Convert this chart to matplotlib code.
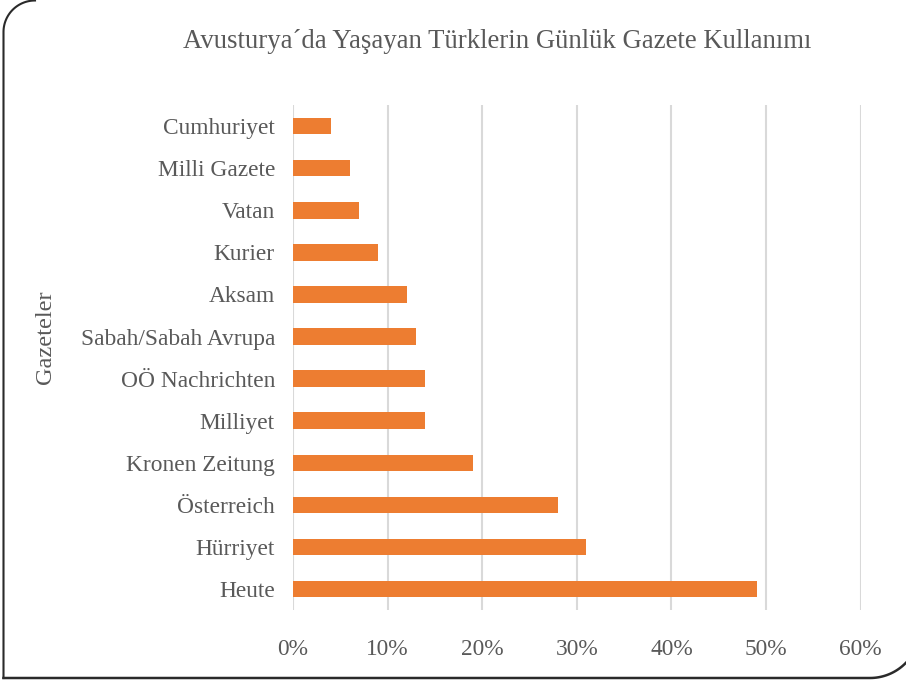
import matplotlib
matplotlib.use("Agg")
import numpy as np
import matplotlib.pyplot as plt
from matplotlib.lines import Line2D
from matplotlib.ticker import PercentFormatter

# Gazete adlari (yukaridan asagiya) ve gunluk kullanim oranlari (%)
gazeteler = ["Cumhuriyet", "Milli Gazete", "Vatan", "Kurier", "Aksam",
             "Sabah/Sabah Avrupa", "OÖ Nachrichten", "Milliyet",
             "Kronen Zeitung", "Österreich", "Hürriyet", "Heute"]
oranlar = [4, 6, 7, 9, 12, 13, 14, 14, 19, 28, 31, 49]
x_ticks = [0, 10, 20, 30, 40, 50, 60]

text_color = "#595959"
W, H = 906, 683
plt.rcParams["font.family"] = ["Liberation Serif", "DejaVu Serif"]

fig = plt.figure(figsize=(W / 100, H / 100), dpi=100)
ax = fig.add_axes([0.3234, 0.107, 0.6266, 0.739])

y_pos = list(range(len(gazeteler)))
ax.barh(y_pos, oranlar, height=0.39, color="#ED7D31")
ax.set_ylim(len(gazeteler) - 0.5, -0.5)
ax.set_xlim(0, 60)
ax.set_yticks(y_pos)
ax.set_yticklabels(gazeteler)
ax.set_xticks(x_ticks)
ax.xaxis.set_major_formatter(PercentFormatter(decimals=0))

ax.grid(axis="x", color="#d9d9d9", linewidth=1.5)
ax.set_axisbelow(True)
for s in ax.spines.values():
    s.set_visible(False)
ax.tick_params(axis="both", length=0, labelsize=16.8, labelcolor=text_color)
ax.tick_params(axis="y", pad=13)
ax.tick_params(axis="x", pad=21)

fig.text(0.549, 1 - 42 / H, "Avusturya´da Yaşayan Türklerin Günlük Gazete Kullanımı",
         ha="center", va="center", fontsize=19.3, color=text_color)
fig.text(0.05, 1 - 337 / H, "Gazeteler", rotation=90,
         ha="center", va="center", fontsize=17.5, color=text_color)


# Cerceve: sol ust ve sag alt koseler yuvarlak (piksel -> figur orani)
def frame_line(xs, ys, lw):
    xs = np.asarray(xs) / W
    ys = 1 - np.asarray(ys) / H
    fig.add_artist(Line2D(xs, ys, transform=fig.transFigure,
                          color="#2a2a2a", linewidth=lw))


t = np.radians(np.linspace(180, 270, 30))
frame_line(np.r_[3.5, 3.5, 35 + 31.5 * np.cos(t)],
           np.r_[678, 32, 32 + 31.5 * np.sin(t)], 1.5)
t = np.radians(np.linspace(90, 44, 20))
frame_line(np.r_[3.5, 870 + 50 * np.cos(t)],
           np.r_[678, 628 + 50 * np.sin(t)], 1.8)

fig.savefig("out.png", dpi=100)
